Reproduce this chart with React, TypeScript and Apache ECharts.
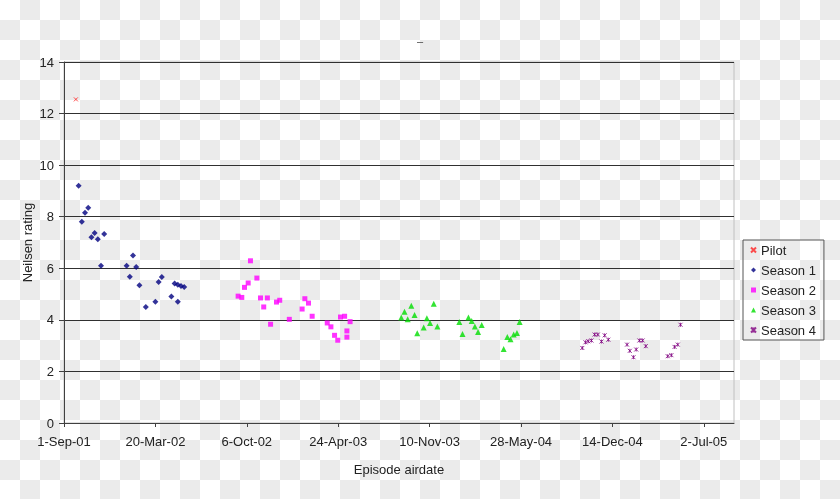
import React, { useEffect, useRef } from "react";
import * as echarts from "echarts";

// ---- data ----
const pilotDates = ["2001-09-27"];
const pilotRatings = [12.55];

const season1Dates = [
  "2001-10-03", "2001-10-10", "2001-10-17", "2001-10-24", "2001-10-31", "2001-11-07",
  "2001-11-14", "2001-11-21", "2001-11-28", "2002-01-16", "2002-01-23", "2002-01-30",
  "2002-02-06", "2002-02-13", "2002-02-27", "2002-03-20", "2002-03-27", "2002-04-03",
  "2002-04-24", "2002-05-01", "2002-05-08", "2002-05-08", "2002-05-15", "2002-05-22",
];
const season1Ratings = [
  9.2, 7.8, 8.15, 8.35, 7.2, 7.37, 7.13, 6.1, 7.33, 6.1, 5.67, 6.5,
  6.05, 5.34, 4.5, 4.7, 5.47, 5.66, 4.91, 5.41, 4.7, 5.36, 5.31, 5.27,
];

const season2Dates = [
  "2002-09-17", "2002-09-25", "2002-10-01", "2002-10-09", "2002-10-14", "2002-10-28",
  "2002-11-05", "2002-11-12", "2002-11-20", "2002-11-27", "2002-12-10", "2002-12-17",
  "2003-01-07", "2003-02-04", "2003-02-10", "2003-02-18", "2003-02-26", "2003-03-31",
  "2003-04-08", "2003-04-16", "2003-04-23", "2003-04-29", "2003-05-08", "2003-05-13",
  "2003-05-13", "2003-05-20",
];
const season2Ratings = [
  4.92, 4.87, 5.26, 5.43, 6.29, 5.62, 4.85, 4.5, 4.85, 3.83, 4.69, 4.76,
  4.02, 4.42, 4.82, 4.65, 4.14, 3.88, 3.73, 3.4, 3.21, 4.11, 4.14, 3.57,
  3.33, 3.93,
];

const season3Dates = [
  "2003-09-09", "2003-09-16", "2003-09-23", "2003-10-01", "2003-10-08", "2003-10-14",
  "2003-10-28", "2003-11-04", "2003-11-11", "2003-11-19", "2003-11-27", "2004-01-14",
  "2004-01-21", "2004-02-03", "2004-02-10", "2004-02-17", "2004-02-24", "2004-03-03",
  "2004-04-20", "2004-04-28", "2004-05-05", "2004-05-12", "2004-05-19", "2004-05-25",
];
const season3Ratings = [
  4.09, 4.31, 4.02, 4.55, 4.19, 3.48, 3.7, 4.06, 3.88, 4.62, 3.74, 3.92,
  3.45, 4.09, 3.96, 3.74, 3.53, 3.8, 2.87, 3.34, 3.25, 3.43, 3.49, 3.92,
];

const season4Dates = [
  "2004-10-09", "2004-10-16", "2004-10-22", "2004-10-29", "2004-11-05", "2004-11-12",
  "2004-11-20", "2004-11-27", "2004-12-05", "2005-01-15", "2005-01-21", "2005-01-29",
  "2005-02-04", "2005-02-11", "2005-02-18", "2005-02-25", "2005-04-14", "2005-04-22",
  "2005-04-29", "2005-05-06", "2005-05-12",
];
const season4Ratings = [
  2.91, 3.13, 3.17, 3.2, 3.43, 3.43, 3.16, 3.4, 3.23, 3.04, 2.8, 2.55,
  2.85, 3.2, 3.2, 2.98, 2.59, 2.63, 2.95, 3.04, 3.81,
];

const seriesNames = ["Pilot", "Season 1", "Season 2", "Season 3", "Season 4"];
const axisStartDate = "2001-09-01"; // first tick label
const tickStepDays = 200;
const axisEndDays = 1466;
const yTicks = [0, 2, 4, 6, 8, 10, 12, 14];

// ---- helpers ----
const DAY = 86400000;
const START = Date.parse(axisStartDate);
const toDays = (s: string) => Math.round((Date.parse(s) - START) / DAY);
const MONTHS = ["Jan", "Feb", "Mar", "Apr", "May", "Jun", "Jul", "Aug", "Sep", "Oct", "Nov", "Dec"];
const fmtDay = (d: number) => {
  const dt = new Date(START + d * DAY);
  return `${dt.getUTCDate()}-${MONTHS[dt.getUTCMonth()]}-${String(dt.getUTCFullYear() % 100).padStart(2, "0")}`;
};
const pairs = (dates: string[], vals: number[]) => dates.map((d, i) => [toDays(d), vals[i]]);

const FONT = "'Liberation Sans', Arial, sans-serif";
const TEXT = "#222";

export default function App() {
  const ref = useRef<HTMLDivElement>(null);
  useEffect(() => {
    if (!ref.current) return;
    const chart = echarts.init(ref.current, undefined, { renderer: "svg" });
    const X = "path://M0 0L10 10M10 0L0 10";
    const STAR = "path://M0 0L10 10M10 0L0 10M5 0L5 10";
    chart.setOption({
      animation: false,
      backgroundColor: "transparent",
      textStyle: { fontFamily: FONT },
      title: {
        text: "–",
        left: "center",
        top: 30,
        textStyle: { fontSize: 11, fontWeight: "normal", color: "#444", fontFamily: FONT },
      },
      grid: {
        left: 64,
        right: 106,
        top: 62,
        bottom: 76,
        show: true,
        borderColor: "#c0c0c0",
        borderWidth: 1,
        backgroundColor: "transparent",
      },
      legend: {
        orient: "vertical",
        left: 743,
        top: 240,
        padding: [0, 8, 0, 7],
        itemGap: 0,
        itemWidth: 5,
        itemHeight: 5,
        borderColor: "#555",
        borderWidth: 1,
        data: seriesNames,
        textStyle: { fontSize: 13, color: TEXT, fontFamily: FONT, lineHeight: 20 },
      },
      xAxis: {
        type: "value",
        min: 0,
        max: axisEndDays,
        interval: tickStepDays,
        name: "Episode airdate",
        nameLocation: "middle",
        nameGap: 40,
        nameMoveOverlap: false,
        nameTextStyle: { fontSize: 13, color: TEXT, fontFamily: FONT },
        axisLine: { show: true, lineStyle: { color: "#404040", width: 1 } },
        axisTick: { show: true, length: 4, lineStyle: { color: "#404040" } },
        axisLabel: {
          fontSize: 13,
          color: TEXT,
          fontFamily: FONT,
          margin: 12,
          showMaxLabel: false,
          formatter: (v: number) => (v % tickStepDays === 0 ? fmtDay(v) : ""),
        },
        splitLine: { show: false },
      },
      yAxis: {
        type: "value",
        min: yTicks[0],
        max: yTicks[yTicks.length - 1],
        interval: yTicks[1] - yTicks[0],
        name: "Neilsen rating",
        nameLocation: "middle",
        nameGap: 30,
        nameMoveOverlap: false,
        nameTextStyle: { fontSize: 13, color: TEXT, fontFamily: FONT },
        axisLine: { show: true, lineStyle: { color: "#404040", width: 1 } },
        axisTick: { show: true, length: 5, lineStyle: { color: "#404040" } },
        axisLabel: { fontSize: 13, color: TEXT, fontFamily: FONT, margin: 10 },
        splitLine: { show: true, lineStyle: { color: "#303030", width: 1 } },
      },
      series: [
        {
          name: seriesNames[0],
          type: "scatter",
          data: pairs(pilotDates, pilotRatings),
          symbol: X,
          symbolSize: 4,
          itemStyle: { color: "#ff2020", borderColor: "#ff2020", borderWidth: 1 },
        },
        {
          name: seriesNames[1],
          type: "scatter",
          data: pairs(season1Dates, season1Ratings),
          symbol: "diamond",
          symbolSize: 6,
          itemStyle: { color: "#000080" },
        },
        {
          name: seriesNames[2],
          type: "scatter",
          data: pairs(season2Dates, season2Ratings),
          symbol: "rect",
          symbolSize: 5,
          itemStyle: { color: "#ff00ff" },
        },
        {
          name: seriesNames[3],
          type: "scatter",
          data: pairs(season3Dates, season3Ratings),
          symbol: "triangle",
          symbolSize: 6,
          itemStyle: { color: "#00dd00" },
        },
        {
          name: seriesNames[4],
          type: "scatter",
          data: pairs(season4Dates, season4Ratings),
          symbol: STAR,
          symbolSize: 4,
          itemStyle: { color: "#800080", borderColor: "#800080", borderWidth: 1 },
        },
      ],
    });
    return () => chart.dispose();
  }, []);

  return (
    <div
      ref={ref}
      style={{
        position: "fixed",
        left: 0,
        top: 0,
        width: 840,
        height: 499,
        background: "repeating-conic-gradient(#ebebeb 0% 25%, #ffffff 0% 50%) 0 0 / 40px 40px",
      }}
    />
  );
}
